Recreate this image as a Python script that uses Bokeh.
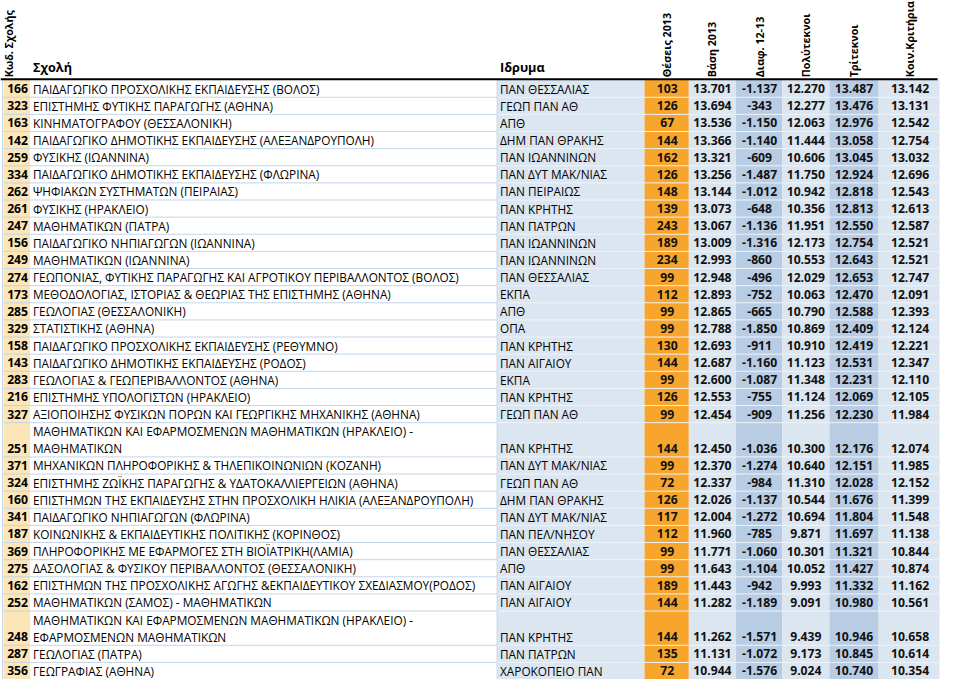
import math
from bokeh.plotting import figure
from bokeh.models import Range1d, ColumnDataSource
from bokeh.core.properties import value
from bokeh.embed import file_html
from bokeh.resources import INLINE

# ---------------- data ----------------
header_rotated = ["Κωδ. Σχολής", "Θέσεις 2013", "Βάση 2013", "Διαφ. 12-13",
                  "Πολύτεκνοι", "Τρίτεκνοι", "Κοιν.Κριτήρια"]
header_flat = ["Σχολή", "Ιδρυμα"]

codes = [166, 323, 163, 142, 259, 334, 262, 261, 247, 156, 249, 274, 173, 285,
         329, 158, 143, 283, 216, 327, 251, 371, 324, 160, 341, 187, 369, 275,
         162, 252, 248, 287, 356]

schools = [
    "ΠΑΙΔΑΓΩΓΙΚΟ ΠΡΟΣΧΟΛΙΚΗΣ ΕΚΠΑΙΔΕΥΣΗΣ (ΒΟΛΟΣ)",
    "ΕΠΙΣΤΗΜΗΣ ΦΥΤΙΚΗΣ ΠΑΡΑΓΩΓΗΣ (ΑΘΗΝΑ)",
    "ΚΙΝΗΜΑΤΟΓΡΑΦΟΥ (ΘΕΣΣΑΛΟΝΙΚΗ)",
    "ΠΑΙΔΑΓΩΓΙΚΟ ΔΗΜΟΤΙΚΗΣ ΕΚΠΑΙΔΕΥΣΗΣ (ΑΛΕΞΑΝΔΡΟΥΠΟΛΗ)",
    "ΦΥΣΙΚΗΣ (ΙΩΑΝΝΙΝΑ)",
    "ΠΑΙΔΑΓΩΓΙΚΟ ΔΗΜΟΤΙΚΗΣ ΕΚΠΑΙΔΕΥΣΗΣ (ΦΛΩΡΙΝΑ)",
    "ΨΗΦΙΑΚΩΝ ΣΥΣΤΗΜΑΤΩΝ (ΠΕΙΡΑΙΑΣ)",
    "ΦΥΣΙΚΗΣ (ΗΡΑΚΛΕΙΟ)",
    "ΜΑΘΗΜΑΤΙΚΩΝ (ΠΑΤΡΑ)",
    "ΠΑΙΔΑΓΩΓΙΚΟ ΝΗΠΙΑΓΩΓΩΝ (ΙΩΑΝΝΙΝΑ)",
    "ΜΑΘΗΜΑΤΙΚΩΝ (ΙΩΑΝΝΙΝΑ)",
    "ΓΕΩΠΟΝΙΑΣ, ΦΥΤΙΚΗΣ ΠΑΡΑΓΩΓΗΣ ΚΑΙ ΑΓΡΟΤΙΚΟΥ ΠΕΡΙΒΑΛΛΟΝΤΟΣ (ΒΟΛΟΣ)",
    "ΜΕΘΟΔΟΛΟΓΙΑΣ, ΙΣΤΟΡΙΑΣ & ΘΕΩΡΙΑΣ ΤΗΣ ΕΠΙΣΤΗΜΗΣ (ΑΘΗΝΑ)",
    "ΓΕΩΛΟΓΙΑΣ (ΘΕΣΣΑΛΟΝΙΚΗ)",
    "ΣΤΑΤΙΣΤΙΚΗΣ (ΑΘΗΝΑ)",
    "ΠΑΙΔΑΓΩΓΙΚΟ ΠΡΟΣΧΟΛΙΚΗΣ ΕΚΠΑΙΔΕΥΣΗΣ (ΡΕΘΥΜΝΟ)",
    "ΠΑΙΔΑΓΩΓΙΚΟ ΔΗΜΟΤΙΚΗΣ ΕΚΠΑΙΔΕΥΣΗΣ (ΡΟΔΟΣ)",
    "ΓΕΩΛΟΓΙΑΣ & ΓΕΩΠΕΡΙΒΑΛΛΟΝΤΟΣ (ΑΘΗΝΑ)",
    "ΕΠΙΣΤΗΜΗΣ ΥΠΟΛΟΓΙΣΤΩΝ (ΗΡΑΚΛΕΙΟ)",
    "ΑΞΙΟΠΟΙΗΣΗΣ ΦΥΣΙΚΩΝ ΠΟΡΩΝ ΚΑΙ ΓΕΩΡΓΙΚΗΣ ΜΗΧΑΝΙΚΗΣ (ΑΘΗΝΑ)",
    "ΜΑΘΗΜΑΤΙΚΩΝ ΚΑΙ ΕΦΑΡΜΟΣΜΕΝΩΝ ΜΑΘΗΜΑΤΙΚΩΝ (ΗΡΑΚΛΕΙΟ) -\nΜΑΘΗΜΑΤΙΚΩΝ",
    "ΜΗΧΑΝΙΚΩΝ ΠΛΗΡΟΦΟΡΙΚΗΣ & ΤΗΛΕΠΙΚΟΙΝΩΝΙΩΝ (ΚΟΖΑΝΗ)",
    "ΕΠΙΣΤΗΜΗΣ ΖΩΪΚΗΣ ΠΑΡΑΓΩΓΗΣ & ΥΔΑΤΟΚΑΛΛΙΕΡΓΕΙΩΝ (ΑΘΗΝΑ)",
    "ΕΠΙΣΤΗΜΩΝ ΤΗΣ ΕΚΠΑΙΔΕΥΣΗΣ ΣΤΗΝ ΠΡΟΣΧΟΛΙΚΗ ΗΛΙΚΙΑ (ΑΛΕΞΑΝΔΡΟΥΠΟΛΗ)",
    "ΠΑΙΔΑΓΩΓΙΚΟ ΝΗΠΙΑΓΩΓΩΝ (ΦΛΩΡΙΝΑ)",
    "ΚΟΙΝΩΝΙΚΗΣ & ΕΚΠΑΙΔΕΥΤΙΚΗΣ ΠΟΛΙΤΙΚΗΣ (ΚΟΡΙΝΘΟΣ)",
    "ΠΛΗΡΟΦΟΡΙΚΗΣ ΜΕ ΕΦΑΡΜΟΓΕΣ ΣΤΗ ΒΙΟΪΑΤΡΙΚΗ(ΛΑΜΙΑ)",
    "ΔΑΣΟΛΟΓΙΑΣ & ΦΥΣΙΚΟΥ ΠΕΡΙΒΑΛΛΟΝΤΟΣ (ΘΕΣΣΑΛΟΝΙΚΗ)",
    "ΕΠΙΣΤΗΜΩΝ ΤΗΣ ΠΡΟΣΧΟΛΙΚΗΣ ΑΓΩΓΗΣ &ΕΚΠΑΙΔΕΥΤΙΚΟΥ ΣΧΕΔΙΑΣΜΟΥ(ΡΟΔΟΣ)",
    "ΜΑΘΗΜΑΤΙΚΩΝ (ΣΑΜΟΣ) - ΜΑΘΗΜΑΤΙΚΩΝ",
    "ΜΑΘΗΜΑΤΙΚΩΝ ΚΑΙ ΕΦΑΡΜΟΣΜΕΝΩΝ ΜΑΘΗΜΑΤΙΚΩΝ (ΗΡΑΚΛΕΙΟ) -\nΕΦΑΡΜΟΣΜΕΝΩΝ ΜΑΘΗΜΑΤΙΚΩΝ",
    "ΓΕΩΛΟΓΙΑΣ (ΠΑΤΡΑ)",
    "ΓΕΩΓΡΑΦΙΑΣ (ΑΘΗΝΑ)",
]

institutions = [
    "ΠΑΝ ΘΕΣΣΑΛΙΑΣ", "ΓΕΩΠ ΠΑΝ ΑΘ", "ΑΠΘ", "ΔΗΜ ΠΑΝ ΘΡΑΚΗΣ", "ΠΑΝ ΙΩΑΝΝΙΝΩΝ",
    "ΠΑΝ ΔΥΤ ΜΑΚ/ΝΙΑΣ", "ΠΑΝ ΠΕΙΡΑΙΩΣ", "ΠΑΝ ΚΡΗΤΗΣ", "ΠΑΝ ΠΑΤΡΩΝ",
    "ΠΑΝ ΙΩΑΝΝΙΝΩΝ", "ΠΑΝ ΙΩΑΝΝΙΝΩΝ", "ΠΑΝ ΘΕΣΣΑΛΙΑΣ", "ΕΚΠΑ", "ΑΠΘ", "ΟΠΑ",
    "ΠΑΝ ΚΡΗΤΗΣ", "ΠΑΝ ΑΙΓΑΙΟΥ", "ΕΚΠΑ", "ΠΑΝ ΚΡΗΤΗΣ", "ΓΕΩΠ ΠΑΝ ΑΘ",
    "ΠΑΝ ΚΡΗΤΗΣ", "ΠΑΝ ΔΥΤ ΜΑΚ/ΝΙΑΣ", "ΓΕΩΠ ΠΑΝ ΑΘ", "ΔΗΜ ΠΑΝ ΘΡΑΚΗΣ",
    "ΠΑΝ ΔΥΤ ΜΑΚ/ΝΙΑΣ", "ΠΑΝ ΠΕΛ/ΝΗΣΟΥ", "ΠΑΝ ΘΕΣΣΑΛΙΑΣ", "ΑΠΘ", "ΠΑΝ ΑΙΓΑΙΟΥ",
    "ΠΑΝ ΑΙΓΑΙΟΥ", "ΠΑΝ ΚΡΗΤΗΣ", "ΠΑΝ ΠΑΤΡΩΝ", "ΧΑΡΟΚΟΠΕΙΟ ΠΑΝ",
]

seats_2013 = [103, 126, 67, 144, 162, 126, 148, 139, 243, 189, 234, 99, 112, 99,
              99, 130, 144, 99, 126, 99, 144, 99, 72, 126, 117, 112, 99, 99, 189,
              144, 144, 135, 72]

base_2013 = [13701, 13694, 13536, 13366, 13321, 13256, 13144, 13073, 13067,
             13009, 12993, 12948, 12893, 12865, 12788, 12693, 12687, 12600,
             12553, 12454, 12450, 12370, 12337, 12026, 12004, 11960, 11771,
             11643, 11443, 11282, 11262, 11131, 10944]

diff_12_13 = [-1137, -343, -1150, -1140, -609, -1487, -1012, -648, -1136, -1316,
              -860, -496, -752, -665, -1850, -911, -1160, -1087, -755, -909,
              -1036, -1274, -984, -1137, -1272, -785, -1060, -1104, -942, -1189,
              -1571, -1072, -1576]

polyteknoi = [12270, 12277, 12063, 11444, 10606, 11750, 10942, 10356, 11951,
              12173, 10553, 12029, 10063, 10790, 10869, 10910, 11123, 11348,
              11124, 11256, 10300, 10640, 11310, 10544, 10694, 9871, 10301,
              10052, 9993, 9091, 9439, 9173, 9024]

triteknoi = [13487, 13476, 12976, 13058, 13045, 12924, 12818, 12813, 12550,
             12754, 12643, 12653, 12470, 12588, 12409, 12419, 12531, 12231,
             12069, 12230, 12176, 12151, 12028, 11676, 11804, 11697, 11321,
             11427, 11332, 10980, 10946, 10845, 10740]

koin_kritiria = [13142, 13131, 12542, 12754, 13032, 12696, 12543, 12613, 12587,
                 12521, 12521, 12747, 12091, 12393, 12124, 12221, 12347, 12110,
                 12105, 11984, 12074, 11985, 12152, 11399, 11548, 11138, 10844,
                 10874, 11162, 10561, 10658, 10614, 10354]

# ---------------- layout ----------------
REF_W, REF_H = 959, 695
W, H = 943, 679
fs = 0.98  # font scale (page px per reference px)
FONT = value("Open Sans")

def px(v):
    return "%.1fpx" % (v * fs)

def gr(v):
    return "{:,}".format(v).replace(",", ".")

p = figure(width=W, height=H, x_range=Range1d(0, REF_W), y_range=Range1d(REF_H, 0),
           output_backend="svg", toolbar_location=None, min_border=0)
p.xaxis.visible = False
p.yaxis.visible = False
p.grid.visible = False
p.outline_line_color = None
p.background_fill_color = "white"
p.border_fill_color = "white"

TOP = 81.5
UNIT = 17.53
units = [s.count("\n") + 1 for s in schools]
tops = []
t = TOP
for u in units:
    tops.append(t)
    t += u * UNIT
BOTTOM = t

col_left = [3, 30, 505, 655, 700, 748, 795, 843, 893]
col_right = [30, 505, 655, 700, 748, 795, 843, 893, 955]
col_fill = ["#fce5b6", "#ffffff", "#dce6f1", "#f7a52d", "#dce6f1", "#b8cce4",
            "#dce6f1", "#b8cce4", "#dce6f1"]
p.quad(left=col_left, right=col_right, top=[TOP] * len(col_left),
       bottom=[BOTTOM] * len(col_left), fill_color=col_fill, line_color=None)

# row separators
sep_y = [tp + u * UNIT for tp, u in zip(tops, units)]
p.segment(x0=[3] * len(sep_y), x1=[505] * len(sep_y), y0=sep_y, y1=sep_y,
          line_color="#c3d6ea", line_width=1)
p.segment(x0=[505] * len(sep_y), x1=[955] * len(sep_y), y0=sep_y, y1=sep_y,
          line_color="#eef3f9", line_width=1)
p.segment(x0=[2], x1=[2], y0=[TOP], y1=[BOTTOM], line_color="#c3d6ea", line_width=1)
p.segment(x0=[505], x1=[505], y0=[TOP], y1=[BOTTOM], line_color="#c3d6ea", line_width=1)

# header rule
p.segment(x0=[0], x1=[953], y0=[80.5], y1=[80.5], line_color="black", line_width=2)

# header texts
p.text(x=[33, 508], y=[77, 77], text=header_flat, text_font=FONT,
       text_font_size=px(13), text_font_style="bold", text_color="black",
       text_baseline="bottom", text_align="left")
rot_x = [9, 678, 724, 772, 819, 868, 925]
p.text(x=rot_x, y=[78.5] * len(rot_x), text=header_rotated, text_font=FONT,
       text_font_size=px(10.9), text_font_style="bold", text_color="black",
       text_baseline="middle", text_align="left", angle=math.pi / 2)

# body texts: school names (possibly wrapped)
nx, ny, nt = [], [], []
for tp, s in zip(tops, schools):
    for i, line in enumerate(s.split("\n")):
        nx.append(33)
        ny.append(tp + (i + 0.5) * UNIT)
        nt.append(line)
p.text(x=nx, y=ny, text=nt, text_font=FONT, text_font_size=px(12),
       text_color="black", text_baseline="middle", text_align="left")

vy = [tp + (u - 0.5) * UNIT for tp, u in zip(tops, units)]
src = ColumnDataSource(dict(
    y=vy,
    code=[str(c) for c in codes],
    inst=institutions,
    seats=[str(s) for s in seats_2013],
    base=[gr(v) for v in base_2013],
    diff=[gr(v) for v in diff_12_13],
    poly=[gr(v) for v in polyteknoi],
    tri=[gr(v) for v in triteknoi],
    koin=[gr(v) for v in koin_kritiria],
))
p.text(x=28, y="y", text="code", source=src, text_font=FONT, text_font_size=px(12.5),
       text_font_style="bold", text_color="black", text_baseline="middle",
       text_align="right")
p.text(x=508, y="y", text="inst", source=src, text_font=FONT, text_font_size=px(12),
       text_color="black", text_baseline="middle", text_align="left")
for cx, field in [(678, "seats"), (724, "base"), (772, "diff"), (819, "poly"),
                  (868, "tri"), (925, "koin")]:
    p.text(x=cx, y="y", text=field, source=src, text_font=FONT,
           text_font_size=px(12.5), text_font_style="bold", text_color="#111111",
           text_baseline="middle", text_align="center")

open("out.html", "w").write(file_html(p, INLINE))
